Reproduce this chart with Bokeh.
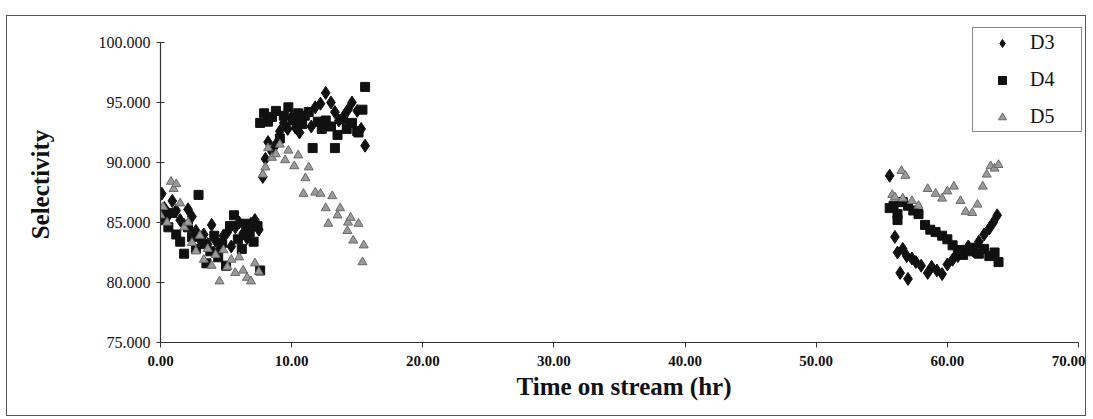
from bokeh.plotting import figure
from bokeh.models import Legend, LegendItem, NumeralTickFormatter, FixedTicker, Range1d
from bokeh.embed import file_html
from bokeh.resources import INLINE

# ---- data ----
d3_t = [0.1, 0.3, 0.6, 0.9, 1.2, 1.5, 1.8, 2.1, 2.4, 2.7, 3.0, 3.3, 3.6, 3.9, 4.2, 4.5, 4.8, 5.1, 5.4, 5.7, 6.0, 6.3, 6.6, 6.9, 7.2, 7.5,
        7.8, 8.0, 8.2, 8.5, 8.8, 9.1, 9.4, 9.7, 10.0, 10.3, 10.6, 10.8, 11.2, 11.5, 11.8, 12.2, 12.6, 13.0, 13.3, 13.6, 14.0, 14.3, 14.6, 15.0, 15.3, 15.6,
        55.6, 56.0, 56.2, 56.4, 56.6, 56.9, 57.0, 57.3, 57.6, 58.0, 58.5, 58.8, 59.2, 59.6, 60.0, 60.4, 60.8, 61.2, 61.6, 62.0, 62.4, 62.8, 63.2, 63.5, 63.8]
d3_v = [87.4, 86.2, 85.6, 86.8, 86.0, 85.2, 84.8, 86.1, 85.5, 84.3, 83.6, 84.0, 83.2, 84.8, 83.5, 82.8, 83.9, 84.2, 83.0, 84.6, 85.0, 84.1, 83.7, 84.9, 85.2, 84.4,
        88.8, 90.3, 91.7, 90.9, 91.5, 92.6, 93.3, 92.8, 93.8, 92.9, 92.5, 93.6, 94.1, 93.0, 94.6, 94.9, 95.8, 95.0, 94.2, 93.5, 93.9, 94.4, 95.0, 94.3, 92.8, 91.4,
        88.9, 83.8, 82.5, 80.8, 82.8, 82.2, 80.3, 82.0, 81.7, 81.4, 80.8, 81.3, 81.0, 80.7, 81.5, 81.9, 82.2, 82.6, 83.0, 82.6, 83.4, 84.0, 84.5, 85.0, 85.6]

d4_t = [0.0, 0.3, 0.6, 0.9, 1.2, 1.5, 1.8, 2.1, 2.4, 2.7, 2.9, 3.2, 3.5, 3.8, 4.1, 4.4, 4.7, 5.0, 5.3, 5.6, 5.9, 6.2, 6.5, 6.8, 7.1, 7.4, 7.6,
        7.6, 7.9, 8.2, 8.5, 8.8, 9.1, 9.4, 9.75, 10.1, 10.5, 10.8, 11.0, 11.3, 11.6, 12.0, 12.3, 12.6, 13.0, 13.3, 13.5, 13.9, 14.2, 14.6, 15.0, 15.1, 15.4, 15.6,
        55.6, 55.9, 56.2, 56.2, 56.6, 57.0, 57.4, 57.8, 58.3, 58.7, 59.1, 59.6, 60.0, 60.4, 60.8, 61.2, 61.6, 62.0, 62.4, 62.8, 63.2, 63.6, 63.9]
d4_v = [86.0, 85.2, 84.6, 85.8, 84.0, 83.4, 82.4, 84.6, 83.8, 82.8, 87.3, 83.2, 81.6, 82.6, 83.9, 82.1, 83.3, 81.4, 84.7, 85.6, 83.6, 82.8, 84.9, 84.2, 83.4, 84.7, 81.0,
        93.3, 94.1, 93.4, 93.8, 94.3, 92.0, 93.9, 94.6, 93.5, 94.1, 93.2, 93.9, 94.2, 91.2, 93.4, 92.8, 93.5, 93.0, 91.2, 92.3, 93.6, 92.8, 93.3, 92.6, 92.5, 94.4, 96.3,
        86.2, 86.4, 85.7, 85.2, 86.7, 86.4, 86.0, 85.7, 84.8, 84.4, 84.2, 83.9, 83.6, 83.1, 82.7, 82.3, 82.6, 82.9, 82.4, 82.8, 82.2, 82.5, 81.7]

d5_t = [0.0, 0.2, 0.5, 0.8, 1.0, 1.2, 1.5, 1.8, 2.1, 2.4, 2.7, 3.0, 3.3, 3.6, 3.9, 4.2, 4.5, 4.8, 5.1, 5.4, 5.7, 6.0, 6.3, 6.6, 6.9, 7.2, 7.5,
        7.8, 8.0, 8.2, 8.5, 8.8, 9.1, 9.5, 9.75, 10.2, 10.5, 10.9, 11.05, 11.3, 11.8, 12.2, 12.6, 12.8, 13.1, 13.5, 13.7, 14.25, 14.3, 14.5, 14.7, 15.1, 15.4, 15.5,
        55.8, 56.0, 56.5, 56.6, 56.8, 57.3, 57.8, 58.5, 59.1, 59.6, 60.0, 60.5, 61.0, 61.4, 61.9, 62.3, 62.7, 63.0, 63.3, 63.6, 63.9]
d5_v = [85.6, 86.3, 85.0, 88.4, 87.8, 88.2, 86.6, 84.6, 85.0, 83.3, 82.6, 83.9, 81.9, 82.8, 81.4, 82.3, 80.1, 82.7, 81.3, 81.9, 80.8, 82.1, 81.0, 80.4, 80.1, 81.6, 80.9,
        89.0, 89.6, 91.2, 90.4, 90.7, 91.5, 90.2, 91.0, 89.7, 90.6, 87.4, 88.7, 89.6, 87.5, 87.4, 86.2, 84.9, 87.2, 85.6, 86.2, 84.3, 85.0, 85.4, 83.5, 84.9, 81.7, 83.1,
        87.3, 87.1, 89.3, 87.0, 88.9, 86.8, 86.4, 87.8, 87.4, 87.0, 87.6, 88.0, 86.8, 85.9, 85.8, 86.5, 88.0, 89.0, 89.7, 89.5, 89.8]

series_names = ["D3", "D4", "D5"]
x_ticks = [0, 10, 20, 30, 40, 50, 60, 70]
y_ticks = [75, 80, 85, 90, 95, 100]

SERIF = "Liberation Serif"

# frame is a little larger than the axes' extent so that the legend box
# (which sits above/right of the axes' ends in the original) is not clipped
p = figure(width=1080, height=401, output_backend="svg", toolbar_location=None,
           x_range=Range1d(0, 70.686), y_range=Range1d(75, 101.333),
           min_border_left=153, min_border_right=0, min_border_top=10, min_border_bottom=75)
p.styles = {"border": "1px solid #555", "margin-left": "6px", "margin-top": "15px"}
p.xgrid.visible = False
p.ygrid.visible = False
p.outline_line_color = None
p.background_fill_color = "white"

r3 = p.scatter(d3_t, d3_v, marker="diamond", size=13, fill_color="#111111", line_color="#111111")
r4 = p.scatter(d4_t, d4_v, marker="square", size=9, fill_color="#111111", line_color="#111111")
r5 = p.scatter(d5_t, d5_v, marker="triangle", size=9, fill_color="#9a9a9a", line_color="#6a6a6a")

for ax in (p.xaxis[0], p.yaxis[0]):
    ax.axis_line_color = "#333333"
    ax.axis_line_width = 1.2
    ax.major_tick_line_color = "#333333"
    ax.minor_tick_line_color = None
    ax.major_label_text_font = SERIF
    ax.major_label_text_color = "#111111"
    ax.axis_label_text_font = SERIF
    ax.axis_label_text_font_style = "bold"
    ax.axis_label_text_color = "#111111"

p.xaxis.bounds = (0, 70)
p.xaxis.ticker = FixedTicker(ticks=x_ticks)
p.xaxis.formatter = NumeralTickFormatter(format="0.00")
p.xaxis.major_label_text_font_size = "15px"
p.xaxis.major_label_text_font_style = "bold"
p.xaxis.major_tick_in = 0
p.xaxis.major_tick_out = 5
p.xaxis.major_label_standoff = 8
p.xaxis.axis_label = "Time on stream (hr)"
p.xaxis.axis_label_text_font_size = "25px"
p.xaxis.axis_label_standoff = 4

p.yaxis.bounds = (75, 100)
p.yaxis.ticker = FixedTicker(ticks=y_ticks)
p.yaxis.formatter = NumeralTickFormatter(format="0.000")
p.yaxis.major_label_text_font_size = "16px"
p.yaxis.major_tick_in = 4
p.yaxis.major_tick_out = 4
p.yaxis.major_label_standoff = 6
p.yaxis.axis_label = "Selectivity"
p.yaxis.axis_label_text_font_size = "25px"
p.yaxis.axis_label_standoff = 42

legend = Legend(items=[LegendItem(label=series_names[0], renderers=[r3]),
                       LegendItem(label=series_names[1], renderers=[r4]),
                       LegendItem(label=series_names[2], renderers=[r5])],
                location=(812, 210))
legend.border_line_color = "#111111"
legend.border_line_width = 1.2
legend.background_fill_alpha = 1
legend.label_text_font = SERIF
legend.label_text_font_size = "20px"
legend.label_text_color = "#111111"
legend.glyph_width = 52
legend.glyph_height = 20
legend.label_height = 20
legend.label_width = 48
legend.label_standoff = 2
legend.spacing = 14
legend.padding = 3
legend.margin = 0
p.add_layout(legend, "center")

open("out.html", "w").write(file_html(p, INLINE))
